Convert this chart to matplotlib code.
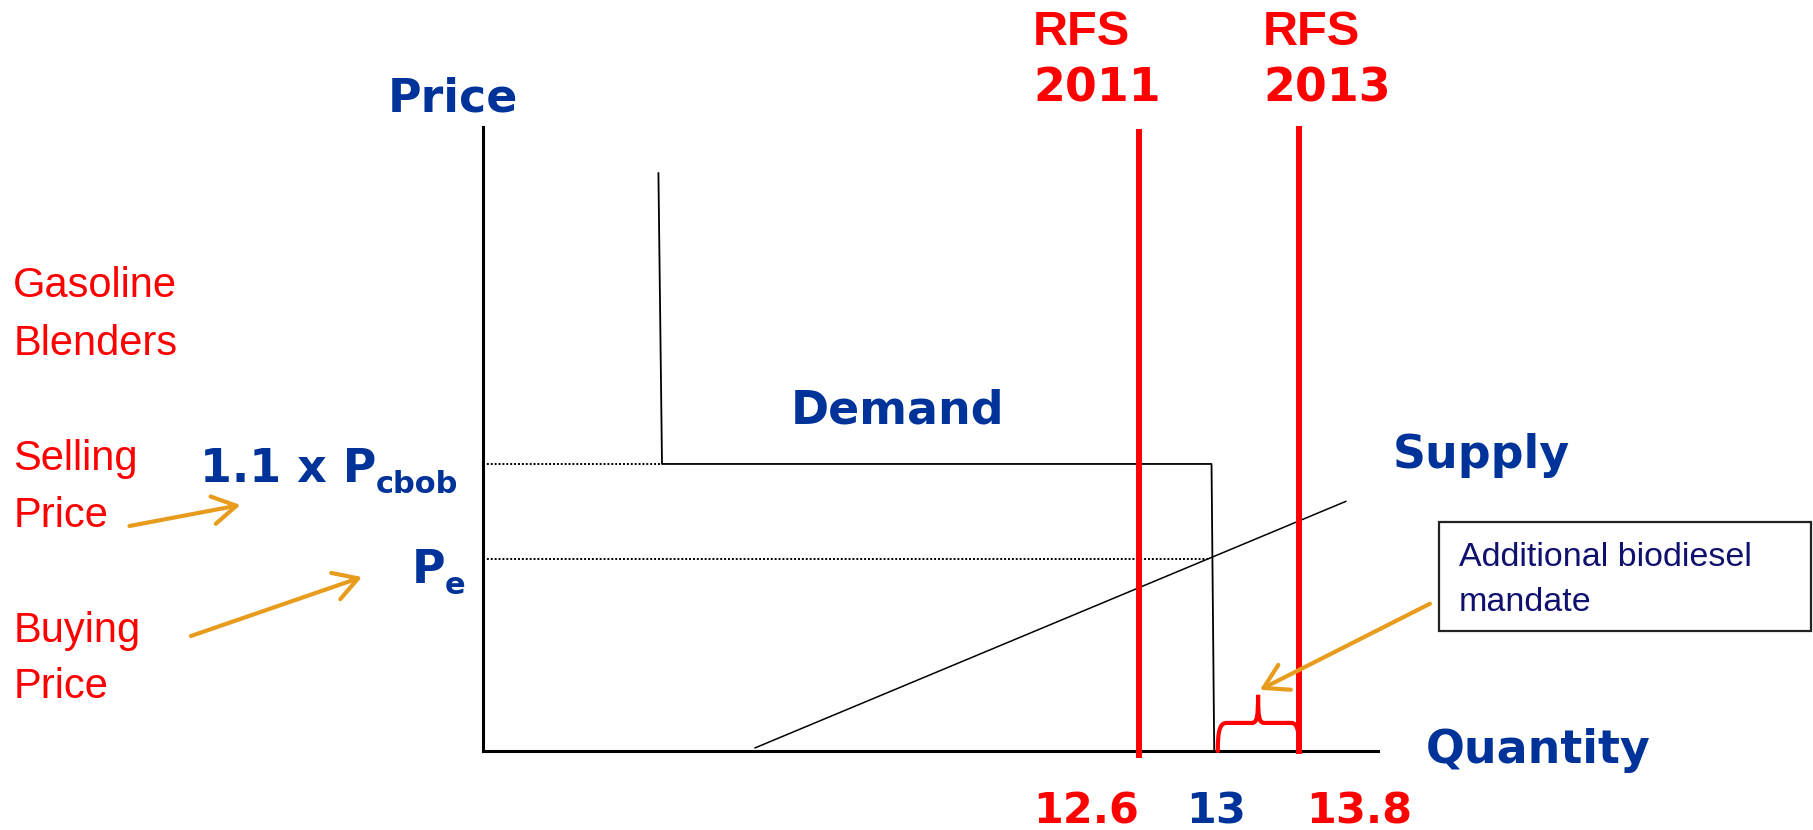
import matplotlib.pyplot as plt
from matplotlib.patches import FancyArrowPatch, Rectangle, PathPatch
from matplotlib.path import Path

BLUE = "#003399"
RED = "#ff0000"
ORANGE = "#e89c1e"
NAVY = "#10106e"

# schematic units: quantity 0..10 along the x axis, price 0..10 up the y axis
demand_q = [1.96, 2.0, 8.14, 8.17]
demand_p = [9.26, 4.60, 4.60, 0.0]
supply_q = [3.04, 9.64]
supply_p = [0.05, 4.0]
p_cbob = 4.60
p_e = 3.08
q_e = 8.12
rfs_q = [7.33, 9.12]
rfs_top = [9.92, 9.97]
rfs_bottom = [-0.06, 0.0]
rfs_years = ["2011", "2013"]
rfs_label_x = [6.145, 8.715]
qty_ticks = [7.33, 8.195, 9.20]
qty_labels = ["12.6", "13", "13.8"]
qty_colors = [RED, BLUE, RED]
qty_align = ["right", "center", "left"]
# brace spanning the gap between 13 and the 2013 mandate
brace_left, brace_right, brace_mid = 8.21, 9.12, 8.66
brace_arm, brace_tip = 0.45, 0.90

side_labels = ["Gasoline", "Blenders", "Selling", "Price", "Buying", "Price"]
side_baselines = [7.28, 6.346, 4.503, 3.594, 1.752, 0.849]

fig = plt.figure(figsize=(18.13, 8.30), dpi=100)
ax = fig.add_axes([483 / 1813, 1 - 751 / 830, 895 / 1813, 624 / 830])
ax.set_xlim(0, 10)
ax.set_ylim(0, 10)
for s in ["top", "right"]:
    ax.spines[s].set_visible(False)
for s in ["left", "bottom"]:
    ax.spines[s].set_linewidth(2.2)
ax.set_xticks([])
ax.set_yticks([])

# price reference lines
ax.plot([0, demand_q[1]], [p_cbob, p_cbob], color="black", lw=1.4, ls=(0, (1, 1)))
ax.plot([0, q_e], [p_e, p_e], color="black", lw=1.4, ls=(0, (1, 1)))

# demand and supply
ax.plot(demand_q, demand_p, color="black", lw=1.3)
ax.plot(supply_q, supply_p, color="black", lw=1.1)

# RFS mandates
for q, top, bot in zip(rfs_q, rfs_top, rfs_bottom):
    ax.plot([q, q], [bot, top], color=RED, lw=4.3, clip_on=False, zorder=3)

for x0, yr in zip(rfs_label_x, rfs_years):
    ax.text(x0, 11.314, "RFS", color=RED, fontsize=35, fontweight="bold",
            family="Liberation Sans", ha="left", va="baseline")
    ax.text(x0, 10.405, yr, color=RED, fontsize=33, fontweight="bold",
            family="DejaVu Sans", ha="left", va="baseline")

# brace
verts = [
    (brace_left, 0.0),
    (brace_left, brace_arm * 0.7), (brace_left + 0.02, brace_arm), (brace_left + 0.1, brace_arm),
    (brace_mid - 0.07, brace_arm),
    (brace_mid - 0.01, brace_arm), (brace_mid, brace_arm + 0.1), (brace_mid, brace_tip),
    (brace_mid, brace_arm + 0.1), (brace_mid + 0.01, brace_arm), (brace_mid + 0.07, brace_arm),
    (brace_right - 0.09, brace_arm),
    (brace_right - 0.02, brace_arm), (brace_right, brace_arm * 0.7), (brace_right, 0.0),
]
codes = [Path.MOVETO,
         Path.CURVE4, Path.CURVE4, Path.CURVE4,
         Path.LINETO,
         Path.CURVE4, Path.CURVE4, Path.CURVE4,
         Path.CURVE4, Path.CURVE4, Path.CURVE4,
         Path.LINETO,
         Path.CURVE4, Path.CURVE4, Path.CURVE4]
ax.add_patch(PathPatch(Path(verts, codes), facecolor="none", edgecolor=RED,
                       lw=3, clip_on=False, zorder=3, capstyle="round"))

# axis titles and curve names
big = dict(color=BLUE, fontsize=33, fontweight="bold", family="DejaVu Sans", va="baseline")
ax.text(-1.067, 10.245, "Price", ha="left", **big)
ax.text(3.44, 5.256, "Demand", ha="left", **big)
ax.text(10.17, 4.53, "Supply", ha="left", **big)
ax.text(10.53, -0.19, "Quantity", ha="left", **big)
ax.text(-1.196, 4.316, "1.1 x P", ha="right", **big)
ax.text(-1.196, 4.14, "cbob", ha="left", color=BLUE, fontsize=22, fontweight="bold",
        family="DejaVu Sans", va="baseline")
ax.text(-0.425, 2.697, "P", ha="right", **big)
ax.text(-0.425, 2.516, "e", ha="left", color=BLUE, fontsize=22, fontweight="bold",
        family="DejaVu Sans", va="baseline")

for q, lab, c, ha in zip(qty_ticks, qty_labels, qty_colors, qty_align):
    ax.text(q, -1.154, lab, color=c, fontsize=31, fontweight="bold",
            family="DejaVu Sans", ha=ha, va="baseline")

for lab, yb in zip(side_labels, side_baselines):
    ax.text(-5.25, yb, lab, color=RED, fontsize=30, family="Liberation Sans",
            ha="left", va="baseline")

# orange pointers
arrows = [((-3.95, 3.606), (-2.71, 3.942)),
          ((-3.263, 1.843), (-1.352, 2.788)),
          ((10.58, 2.36), (8.68, 0.98))]
for tail, head in arrows:
    ax.add_patch(FancyArrowPatch(tail, head, arrowstyle="->,head_length=0.85,head_width=0.5",
                                 mutation_scale=20, color=ORANGE, lw=3, clip_on=False,
                                 zorder=4, shrinkA=0, shrinkB=0))

# note box
ax.add_patch(Rectangle((10.68, 1.92), 4.16, 1.75, facecolor="white", edgecolor="#222222",
                       lw=1.6, clip_on=False, zorder=2))
ax.text(10.905, 2.965, "Additional biodiesel", color=NAVY, fontsize=24.5,
        family="Liberation Sans", ha="left", va="baseline")
ax.text(10.905, 2.248, "mandate", color=NAVY, fontsize=24.5,
        family="Liberation Sans", ha="left", va="baseline")

fig.savefig("out.png", dpi=100)
